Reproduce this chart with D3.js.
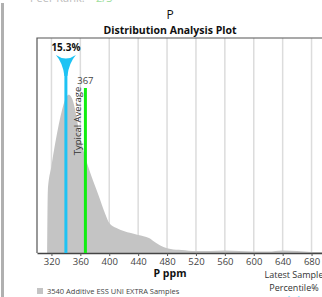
<!DOCTYPE html>
<html>
<head>
<meta charset="utf-8">
<script src="https://cdn.jsdelivr.net/npm/d3@7"></script>
<style>
  body { margin: 0; background: #fff; overflow: hidden; }
  text { font-family: "Open Sans", "DejaVu Sans", sans-serif; }
</style>
</head>
<body>
<div id="chart"></div>
<script>
// density curve of the sample population (P ppm vs relative density)
var ppm     = [314, 315, 320, 330, 335, 338, 341, 344, 347, 350, 354, 358, 364, 370, 375, 385, 395, 400, 410, 420, 440, 455, 465, 475, 485, 500, 520, 540, 560, 580, 600, 620, 640, 660, 680, 700];
var density = [0, 29, 40.5, 59.5, 67, 70.5, 72.8, 73.6, 72.8, 70.5, 64.5, 57, 48, 41, 36, 27, 17.7, 14, 11.6, 10.2, 8.4, 7, 4.7, 2.8, 1.9, 1.4, 0.9, 0.9, 1.2, 0.9, 0.7, 0.7, 1.2, 0.9, 0.5, 0.5];
var xTicks  = [320, 360, 400, 440, 480, 520, 560, 600, 640, 680];

var latestSample = 340, latestLabel = "15.3%";
var typicalAvg = 367, typicalLabel = "367";

var W = 322, H = 297;
var margin = {top: 38, left: 37, bottom: 44};

var svg = d3.select("#chart").append("svg")
    .attr("width", W).attr("height", H);

// page-level bits around the chart
svg.append("rect").attr("x", 1).attr("y", 3).attr("width", 3).attr("height", H)
    .style("fill", "#b0b0b0");
svg.append("text").attr("x", 30).attr("y", 2).text("Peer Rank:")
    .style("font-size", "11px").style("fill", "#bbb");
svg.append("text").attr("x", 96).attr("y", 2).text("2/3")
    .style("font-size", "11px").style("fill", "#9ede9e");

var x = d3.scaleLinear().domain([300, 700]).range([margin.left, margin.left + 289]);
var y = d3.scaleLinear().domain([0, 100]).range([H - margin.bottom, margin.top]);

// titles
svg.append("text").attr("x", 170).attr("y", 19).attr("text-anchor", "middle")
    .text("P").style("font-size", "12px").style("fill", "#111");
svg.append("text").attr("x", 170).attr("y", 33.5).attr("text-anchor", "middle")
    .text("Distribution Analysis Plot").style("font-size", "10.5px")
    .style("font-weight", "bold").style("fill", "#111");

// grid
svg.selectAll("line.grid")
  .data(xTicks)
  .enter()
  .append("line")
    .attr("class", "grid")
    .attr("x1", function(d) { return x(d); }).attr("x2", function(d) { return x(d); })
    .attr("y1", y(100)).attr("y2", y(0))
    .style("stroke", "#dcdcdc").style("stroke-width", 1.5);

// density area
var pts = ppm.map(function(v, i) { return [v, density[i]]; });
var area = d3.area()
    .x(function(d) { return x(d[0]); })
    .y0(y(0))
    .y1(function(d) { return y(d[1]); })
    .curve(d3.curveMonotoneX);
svg.append("path").datum(pts).attr("d", area).style("fill", "#c4c4c4");

// plot frame
svg.append("path")
    .attr("d", "M" + x(700) + "," + y(100) + "H" + x(300) + "V" + y(0))
    .style("fill", "none").style("stroke", "#555").style("stroke-width", 1.2);

// x axis
var xAxis = svg.append("g")
    .attr("transform", "translate(0," + y(0) + ")")
    .call(d3.axisBottom(x).tickValues(xTicks).tickSize(3).tickSizeOuter(0));
xAxis.select(".domain").style("stroke", "#444").style("stroke-width", 1.5);
xAxis.selectAll(".tick line").style("stroke", "#555");
xAxis.selectAll("text").style("font-size", "9.5px").style("fill", "#444")
    .style("font-family", "'Open Sans', sans-serif").attr("dy", "0.62em");

svg.append("text").attr("x", 170).attr("y", 277).attr("text-anchor", "middle")
    .text("P ppm").style("font-size", "10.5px").style("font-weight", "bold").style("fill", "#111");

// typical average line
svg.append("line")
    .attr("x1", x(typicalAvg)).attr("x2", x(typicalAvg))
    .attr("y1", 88).attr("y2", y(0))
    .style("stroke", "#11ee11").style("stroke-width", 3);
svg.append("text").attr("x", x(typicalAvg)).attr("y", 84).attr("text-anchor", "middle")
    .text(typicalLabel).style("font-size", "9.5px").style("fill", "#444");
svg.append("text")
    .attr("transform", "translate(" + (x(typicalAvg) - 4) + ",121) rotate(-90)")
    .attr("text-anchor", "middle")
    .text("Typical Average").style("font-size", "9.5px").style("fill", "#333");

// latest sample line with marker
var bx = x(latestSample);
svg.append("line")
    .attr("x1", bx).attr("x2", bx).attr("y1", 60).attr("y2", y(0))
    .style("stroke", "#1ec3f4").style("stroke-width", 3);
svg.append("path")
    .attr("d", "M" + (bx - 10) + ",55 Q" + bx + ",62 " + (bx + 10) + ",55"
             + " Q" + (bx + 3) + ",63 " + (bx + 1.5) + ",76 L" + (bx - 1.5) + ",76"
             + " Q" + (bx - 3) + ",63 " + (bx - 10) + ",55 Z")
    .style("fill", "#1ec3f4");
svg.append("text").attr("x", bx).attr("y", 51).attr("text-anchor", "middle")
    .text(latestLabel).style("font-size", "10px").style("font-weight", "bold").style("fill", "#111");

// legend
svg.append("rect").attr("x", 37).attr("y", 288).attr("width", 6).attr("height", 6).style("fill", "#c4c4c4");
svg.append("text").attr("x", 47).attr("y", 294)
    .text("3540 Additive ESS UNI EXTRA Samples").style("font-size", "7.5px").style("fill", "#444");
svg.append("text").attr("x", 294).attr("y", 278).attr("text-anchor", "middle")
    .text("Latest Sample").style("font-size", "9px").style("fill", "#333");
svg.append("text").attr("x", 294).attr("y", 291).attr("text-anchor", "middle")
    .text("Percentile%").style("font-size", "9px").style("fill", "#333");
svg.append("path")
    .attr("d", "M288,296 Q294,299 300,296 L296,300 L292,300 Z")
    .style("fill", "#1ec3f4");
</script>
</body>
</html>
